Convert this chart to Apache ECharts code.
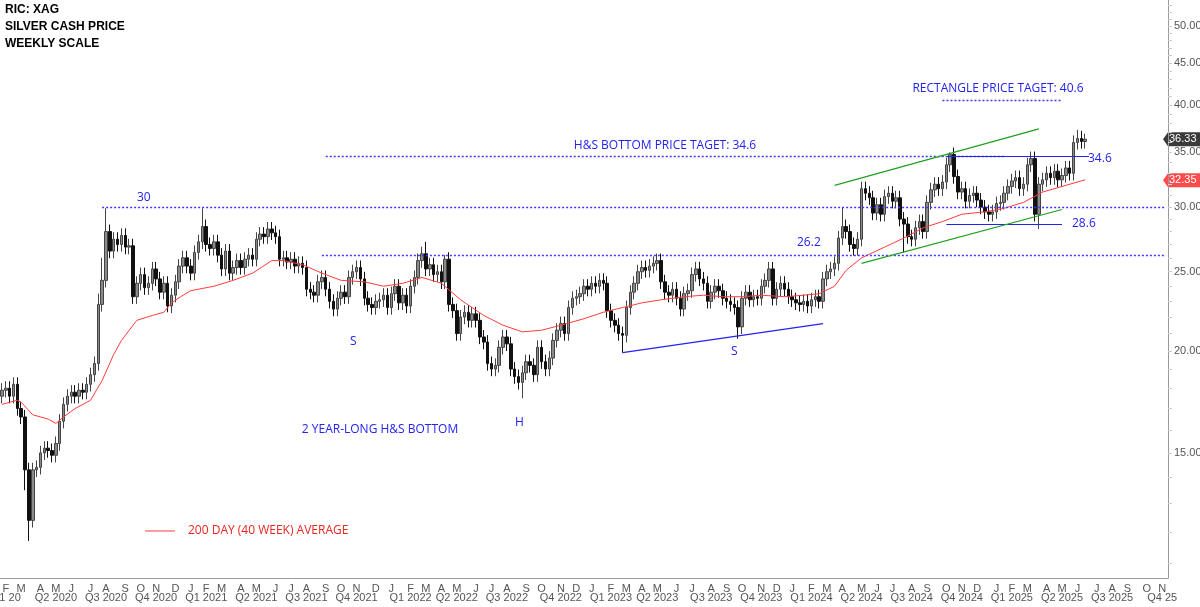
<!DOCTYPE html>
<html><head><meta charset="utf-8">
<script src="https://cdn.jsdelivr.net/npm/echarts@6/dist/echarts.min.js"></script>
<style>html,body{margin:0;padding:0;background:#fff}#c{width:1200px;height:607px}</style>
</head><body><div id="c"></div>
<script>
// weekly closes starting week of 2020-02-07
const closes = [
17.9,18.0,17.6,18.2,17.0,16.6,14.3,12.4,14.3,14.4,15.0,15.2,15.1,14.9,15.4,16.4,17.2,17.6,17.8,17.6,
17.9,17.8,18.2,18.7,19.3,22.8,24.4,28.0,26.5,27.4,27.0,27.7,26.8,26.9,23.3,24.2,24.8,23.9,24.2,25.2,
24.5,23.6,24.2,22.7,23.4,24.3,25.4,26.0,25.4,24.9,26.4,27.2,28.4,27.0,26.7,27.2,26.2,25.2,26.5,24.9,
25.3,25.8,25.3,25.9,26.2,25.9,27.4,27.8,27.6,28.2,27.9,27.6,25.9,26.0,25.7,25.9,25.4,25.6,25.3,23.8,
23.6,23.4,24.3,24.6,23.8,23.0,22.5,23.2,23.6,23.3,24.6,25.0,25.3,24.5,23.2,22.8,22.6,23.0,23.1,23.4,
22.6,23.5,24.0,22.9,23.4,22.7,24.0,24.6,25.8,26.3,25.2,25.5,24.8,25.0,24.3,25.9,22.8,22.4,21.0,22.0,
22.3,21.8,22.2,21.8,20.8,20.5,19.3,19.0,19.2,20.2,20.8,20.4,19.0,18.6,18.3,18.8,19.4,19.2,18.7,20.2,
19.4,19.0,19.6,20.6,21.2,21.6,21.0,22.6,23.2,23.3,23.5,24.0,23.8,24.2,24.0,24.4,24.2,22.4,21.8,21.5,
21.0,20.9,22.6,23.6,24.2,25.0,25.3,25.1,25.4,25.6,25.8,24.3,23.6,23.4,23.8,23.2,22.5,23.5,23.7,24.8,
25.2,24.5,24.2,23.0,23.6,24.0,23.7,23.2,23.0,22.8,22.6,21.4,23.2,23.6,23.1,23.3,23.2,24.0,24.4,25.2,
23.2,23.8,24.2,23.8,23.3,23.1,22.9,22.8,23.0,22.7,23.1,23.3,23.0,24.5,25.0,25.2,25.6,27.5,28.4,28.0,
27.0,26.7,27.4,31.6,31.2,30.8,29.5,30.2,29.4,30.9,31.2,30.5,30.8,29.0,28.6,27.6,27.4,28.3,28.8,28.0,
30.4,31.5,32.0,31.6,32.2,33.8,34.8,32.7,31.3,31.6,30.5,31.0,31.2,30.6,30.0,29.6,29.4,29.6,30.3,30.4,
31.2,31.8,32.3,32.6,31.6,32.0,33.8,34.4,29.4,32.0,32.4,33.0,32.6,33.2,32.4,32.8,33.5,33.0,36.0,36.4,
36.1,36.33];
const firstOpen = 17.6;
// notable wick extremes: index -> price
const highOverrides = {27:29.9,52:29.9,110:27.2,115:26.2,218:30.0,246:35.0,279:37.3,280:37.2,281:36.9,25:23.5,26:26.0};
const lowOverrides = {7:11.7,6:13.5,135:17.5,161:19.9,191:20.7,234:26.4,269:28.2,43:22.3};
// 40-week average, read at sampled weeks
const maIdx = [0,4,5,8,12,14,16,19,23,26,29,31,35,39,42,44,47,49,55,60,65,70,73,78,83,88,94,99,104,109,114,119,125,130,135,140,145,151,156,161,166,171,177,182,187,192,197,203,208,212,216,219,223,229,234,239,244,249,255,260,265,270,275,281];
const maVal = [17.2,17.4,17.3,16.7,16.5,16.3,16.6,17.0,17.4,18.4,19.8,20.6,21.8,22.1,22.3,22.9,23.4,23.7,24.0,24.4,24.9,25.8,25.8,25.5,24.9,24.4,24.3,24.0,24.2,24.6,24.2,23.1,22.1,21.5,21.1,21.2,21.5,21.9,22.3,22.6,22.9,23.1,23.3,23.4,23.3,23.3,23.4,23.3,23.4,23.5,24.0,25.1,26.0,26.8,27.5,28.3,28.8,29.4,29.6,29.9,30.4,31.3,31.8,32.4];
const yTicks = [15,20,25,30,35,40,45,50];
const minorTicks = [11,12,13,14,16,17,18,19,21,22,23,24,26,27,28,29,31,32,33,34,36,37,38,39,41,42,43,44,46,47,48,49,51,52,53];
const lastPrice = 36.33, lastMA = 32.35;
const nWeeks = 303;

const L = Math.log;
const cats = [];
for (let i=0;i<nWeeks;i++){ const d=new Date(Date.UTC(2020,1,7)+i*7*864e5); cats.push(d.toISOString().slice(0,10)); }
const candle = closes.map((c,i)=>{
  const o = i===0?firstOpen:closes[i-1];
  const h = highOverrides[i]!==undefined?highOverrides[i]:Math.max(o,c)*1.02;
  const l = lowOverrides[i]!==undefined?lowOverrides[i]:Math.min(o,c)*0.98;
  return [L(o),L(c),L(l),L(h)];
});
const ma = maIdx.map((ix,k)=>[ix,L(maVal[k])]);
const md = s=>({y:+s.slice(0,4),m:+s.slice(5,7)-1,d:+s.slice(8,10)});
const MON='JFMAMJJASOND';
const blue='#2323f0';
const seg=(a,pa,b,pb,ls)=>[{coord:[a,L(pa)],lineStyle:ls},{coord:[b,L(pb)]}];
const DOT={type:[2,2],color:'#3a3aff',width:1.3}, SOL={type:'solid',color:blue,width:1.2}, GRN={type:'solid',color:'#1fa01f',width:1.2};
const chart = echarts.init(document.getElementById('c'));
chart.setOption({
  animation:false,
  grid:{left:0,right:32,top:0,bottom:29,outerBoundsMode:'none',containLabel:false},
  xAxis:[{type:'category',data:cats,boundaryGap:true,
    axisLine:{lineStyle:{color:'#999'}},
    axisTick:{alignWithLabel:true,length:4,lineStyle:{color:'#bbb'},interval:(i,v)=>md(v).d<=7},
    axisLabel:{hideOverlap:false,interval:(i,v)=>{const d=md(v).d;return d>=12&&d<=18;},formatter:v=>MON[md(v).m],
      color:'#555',fontFamily:'Liberation Sans',fontSize:11,margin:5}},
   {type:'category',data:cats,position:'bottom',offset:13,boundaryGap:true,
    axisLine:{show:false},
    axisTick:{alignWithLabel:true,length:13,lineStyle:{color:'#ccc'},interval:(i,v)=>{const o=md(v);return o.d<=7&&o.m%3===0;}},
    axisLabel:{hideOverlap:false,interval:(i,v)=>{const o=md(v);return o.d>=12&&o.d<=18&&o.m%3===1;},
      formatter:v=>{const o=md(v);const q=Math.floor(o.m/3)+1;if((o.y===2020&&q===1)||(o.y===2025&&q===4))return 'Q'+q+' '+String(o.y).slice(2);return 'Q'+q+' '+o.y;},
      color:'#555',fontFamily:'Liberation Sans',fontSize:11,margin:1}}],
  yAxis:{type:'value',position:'right',min:L(10.54),max:L(53.8),
    axisLine:{show:true,lineStyle:{color:'#999'}},splitLine:{show:false},
    axisTick:{show:true,customValues:minorTicks.concat(yTicks).map(L),length:4,lineStyle:{color:'#ccc'}},
    axisLabel:{customValues:yTicks.map(L),formatter:v=>Math.exp(v).toFixed(2),color:'#555',fontFamily:'Liberation Sans',fontSize:11,margin:6}},
  series:[
   {type:'candlestick',data:candle,barWidth:3,
    itemStyle:{color:'#8a8a8a',color0:'#111',borderColor:'#444',borderColor0:'#111',borderWidth:1}},
   {type:'line',data:ma,showSymbol:false,lineStyle:{color:'#ff3b3b',width:1},z:3,
    markLine:{silent:true,symbol:'none',label:{show:false},
      data:[
       seg(26,30,nWeeks-1,30,DOT),
       seg(83,26.2,nWeeks-1,26.2,DOT),
       seg(84,34.6,260,34.6,DOT),
       seg(244,40.6,275,40.6,DOT),
       seg(245,34.6,282,34.6,SOL),
       seg(245,28.6,275,28.6,SOL),
       seg(161,19.9,213,21.6,SOL),
       seg(216,31.9,269,37.4,GRN),
       seg(223,25.6,275,29.8,GRN)
      ]}}
  ]
});
const px=(i,p)=>chart.convertToPixel({xAxisIndex:0,yAxisIndex:0},[i,L(p)]);
const yL=px(0,lastPrice)[1], yM=px(0,lastMA)[1];
const t=(x,y,s,o)=>({type:'text',x,y,style:Object.assign({text:s,fill:blue,font:'12px "Open Sans"',textAlign:'left',textVerticalAlign:'middle'},o||{})});
const tag=(y,s,c)=>({type:'group',children:[
  {type:'polygon',shape:{points:[[1163,y],[1168,y-7],[1200,y-7],[1200,y+7],[1168,y+7]]},style:{fill:c}},
  {type:'text',x:1169,y:y,style:{text:s,fill:'#fff',font:'11px "Liberation Sans"',textVerticalAlign:'middle'}}]});
chart.setOption({graphic:[
  t(5,10,'RIC: XAG',{fill:'#000',font:'bold 12px "Liberation Sans"'}),
  t(5,27,'SILVER CASH PRICE',{fill:'#000',font:'bold 12px "Liberation Sans"'}),
  t(5,44,'WEEKLY SCALE',{fill:'#000',font:'bold 12px "Liberation Sans"'}),
  t(137,198,'30'),t(350,342,'S'),t(515,423,'H'),t(731,352,'S'),
  t(380,430,'2 YEAR-LONG H&S BOTTOM',{textAlign:'center'}),
  t(797,243,'26.2'),
  t(665,146,'H&S BOTTOM PRICE TAGET: 34.6',{textAlign:'center'}),
  t(998,89,'RECTANGLE PRICE TAGET: 40.6',{textAlign:'center'}),
  t(1088,159,'34.6'),t(1072,224,'28.6'),
  {type:'line',shape:{x1:145,y1:531,x2:175,y2:531},style:{stroke:'#ff3b3b',lineWidth:1}},
  t(188,531,'200 DAY (40 WEEK) AVERAGE',{fill:'#e8261f'}),
  tag(yL,lastPrice.toFixed(2),'#3a3a3a'),
  tag(yM,lastMA.toFixed(2),'#ff4b4b')
]});
</script></body></html>
